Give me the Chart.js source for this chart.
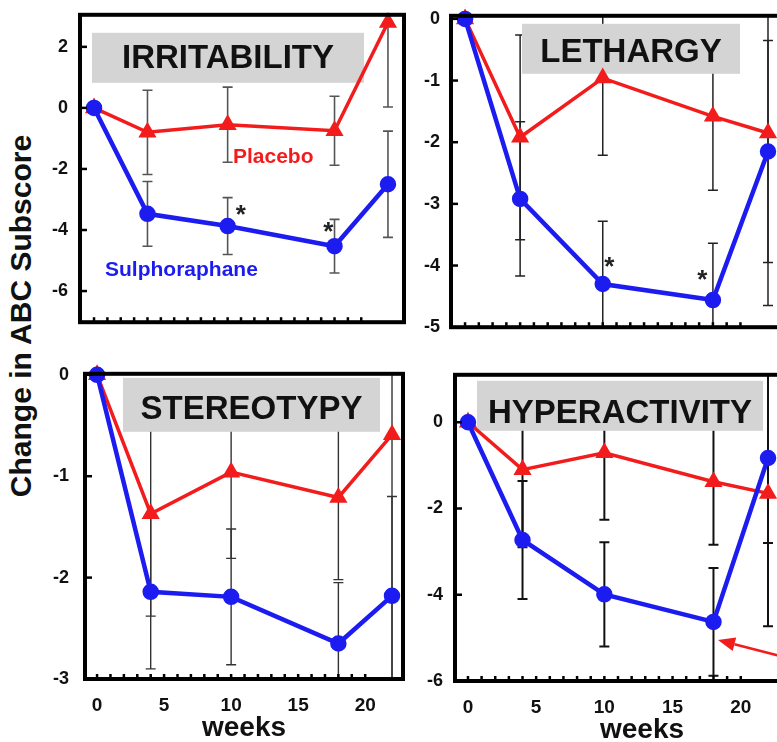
<!DOCTYPE html>
<html>
<head>
<meta charset="utf-8">
<script src="https://cdn.jsdelivr.net/npm/chart.js@4.4.0/dist/chart.umd.min.js"></script>
<style>
  body { margin: 0; background: #fff; width: 777px; height: 742px; overflow: hidden; position: relative; }
  canvas { position: absolute; }
  #ytitle {
    position: absolute; left: 21px; top: 316px;
    transform: translate(-50%, -50%) rotate(-90deg);
    white-space: nowrap; color: #111;
    font: bold 30px "Liberation Sans", Arial, sans-serif;
  }
</style>
</head>
<body>
<div id="ytitle">Change in ABC Subscore</div>
<canvas id="irr"></canvas>
<canvas id="leth"></canvas>
<canvas id="stereo"></canvas>
<canvas id="hyper"></canvas>
<script>
// weeks of assessment
const weeks = [0, 4, 10, 18, 22];
const weekTicks = [0, 5, 10, 15, 20];
const minorWeeks = [0, 1, 2, 3, 4, 5, 6, 7, 8, 9, 10, 11, 12, 13, 14, 15, 16, 17, 18, 19, 20];

// mean change and error (+/-) per subscale
const irritabilityPlacebo = [0, -0.8, -0.55, -0.75, 2.8];
const irritabilityPlaceboErr = [0, 1.38, 1.23, 1.13, 2.77];
const irritabilitySulph = [0, -3.47, -3.87, -4.53, -2.5];
const irritabilitySulphErr = [0, 1.06, 0.93, 0.88, 1.74];
const irritabilityTicks = [-6, -4, -2, 0, 2];

const lethargyPlacebo = [0, -1.92, -0.96, -1.58, -1.85];
const lethargyPlaceboErr = [0, 1.66, 1.25, 1.2, 2.8];
const lethargySulph = [0, -2.92, -4.3, -4.56, -2.15];
const lethargySulphErr = [0, 1.25, 1.02, 0.92, 1.8];
const lethargyTicks = [-5, -4, -3, -2, -1, 0];

const stereotypyPlacebo = [0, -1.37, -0.96, -1.21, -0.59];
const stereotypyPlaceboErr = [0, 1.01, 0.85, 0.81, 2.5];
const stereotypySulph = [0, -2.14, -2.19, -2.65, -2.18];
const stereotypySulphErr = [0, 0.76, 0.67, 0.6, 0.98];
const stereotypyTicks = [-3, -2, -1, 0];

const hyperactivityPlacebo = [0, -1.1, -0.71, -1.38, -1.65];
const hyperactivityPlaceboErr = [0, 1.8, 1.55, 1.46, 3.08];
const hyperactivitySulph = [0, -2.73, -3.99, -4.63, -0.83];
const hyperactivitySulphErr = [0, 1.37, 1.21, 1.25, 1.97];
const hyperactivityTicks = [-6, -4, -2, 0];

const RED = '#f21c1c';
const BLUE = '#1c1cf0';
const FONT = '"Liberation Sans", Arial, Helvetica, sans-serif';
const AXIS_W = 62;   // y axis width
const PAD = 14;
const X_AXIS_H = 66;

// decorations: error bars, grey title box, frame, ticks, notes
const decor = {
  id: 'decor',
  beforeDatasetsDraw(chart, args, o) {
    const { ctx, chartArea: a, scales: { x, y } } = chart;
    ctx.save();
    ctx.beginPath();
    ctx.rect(a.left, a.top, a.width, a.height);
    ctx.clip();
    ctx.strokeStyle = o.errColor;
    ctx.lineWidth = o.errWidth;
    chart.data.datasets.forEach(ds => {
      ds.data.forEach((p, i) => {
        const e = ds.errors[i];
        if (!e) return;
        const px = x.getPixelForValue(p.x);
        const y1 = y.getPixelForValue(p.y + e);
        const y2 = y.getPixelForValue(p.y - e);
        ctx.beginPath();
        ctx.moveTo(px, y1); ctx.lineTo(px, y2);
        ctx.moveTo(px - 5, y1); ctx.lineTo(px + 5, y1);
        ctx.moveTo(px - 5, y2); ctx.lineTo(px + 5, y2);
        ctx.stroke();
      });
    });
    ctx.restore();

    // title box sits over the error bars
    const b = o.box;
    ctx.save();
    ctx.fillStyle = '#d4d4d4';
    ctx.fillRect(a.left + b.dx, a.top + b.dy, b.w, b.h);
    ctx.fillStyle = '#111';
    ctx.font = 'bold 33px ' + FONT;
    ctx.textAlign = 'center';
    ctx.textBaseline = 'alphabetic';
    ctx.fillText(o.title, a.left + b.dx + b.w / 2, a.top + b.dy + b.base);
    ctx.restore();
  },
  afterDatasetsDraw(chart, args, o) {
    const { ctx, chartArea: a, scales: { x, y } } = chart;
    ctx.save();
    ctx.strokeStyle = '#000';
    ctx.lineWidth = 2.5;
    // inward y ticks
    y.ticks.forEach(t => {
      const py = y.getPixelForValue(t.value);
      ctx.beginPath(); ctx.moveTo(a.left, py); ctx.lineTo(a.left + 7, py); ctx.stroke();
    });
    // minor week ticks on the bottom
    minorWeeks.forEach(w => {
      const px = x.getPixelForValue(w);
      ctx.beginPath(); ctx.moveTo(px, a.bottom); ctx.lineTo(px, a.bottom - 5); ctx.stroke();
    });
    // frame
    ctx.lineWidth = 4;
    ctx.strokeRect(a.left, a.top, a.width, a.height);

    // text notes
    (o.notes || []).forEach(n => {
      ctx.fillStyle = n.color;
      ctx.font = 'bold ' + n.size + 'px ' + FONT;
      ctx.textAlign = n.align || 'center';
      ctx.textBaseline = 'middle';
      ctx.fillText(n.text, x.getPixelForValue(n.x), y.getPixelForValue(n.y));
    });

    // arrow
    if (o.arrow) {
      const x0 = x.getPixelForValue(o.arrow.from[0]), y0 = y.getPixelForValue(o.arrow.from[1]);
      const x1 = x.getPixelForValue(o.arrow.to[0]), y1 = y.getPixelForValue(o.arrow.to[1]);
      const ang = Math.atan2(y1 - y0, x1 - x0);
      const L = 17, W = 7;
      const bx = x1 - L * Math.cos(ang), by = y1 - L * Math.sin(ang);
      ctx.strokeStyle = RED; ctx.fillStyle = RED; ctx.lineWidth = 2.5;
      ctx.beginPath(); ctx.moveTo(x0, y0); ctx.lineTo(bx, by); ctx.stroke();
      ctx.beginPath();
      ctx.moveTo(x1, y1);
      ctx.lineTo(bx - W * Math.sin(ang), by + W * Math.cos(ang));
      ctx.lineTo(bx + W * Math.sin(ang), by - W * Math.cos(ang));
      ctx.closePath(); ctx.fill();
    }
    ctx.restore();
  }
};

const panels = [
  {
    id: 'irr', title: 'IRRITABILITY',
    placebo: irritabilityPlacebo, placeboErr: irritabilityPlaceboErr,
    sulph: irritabilitySulph, sulphErr: irritabilitySulphErr, yTicks: irritabilityTicks,
    frame: { left: 80, top: 15, right: 404, bottom: 322 },
    xRange: [-1.05, 23.2], yRange: [-7.02, 3.05], labelPad: 12, showX: false,
    box: { dx: 12, dy: 18, w: 272, h: 50, base: 35 }, errColor: '#555', errWidth: 1.6,
    notes: [
      { text: 'Placebo', x: 10.4, y: -1.6, color: RED, size: 21, align: 'left' },
      { text: 'Sulphoraphane', x: 0.82, y: -5.31, color: BLUE, size: 21, align: 'left' },
      { text: '*', x: 10.98, y: -3.55, color: '#222', size: 26 },
      { text: '*', x: 17.53, y: -4.1, color: '#222', size: 26 }
    ]
  },
  {
    id: 'leth', title: 'LETHARGY',
    placebo: lethargyPlacebo, placeboErr: lethargyPlaceboErr,
    sulph: lethargySulph, sulphErr: lethargySulphErr, yTicks: lethargyTicks,
    frame: { left: 451, top: 16, right: 829, bottom: 327 },
    xRange: [-1.02, 26.43], yRange: [-5, 0.05], labelPad: 11, showX: false,
    box: { dx: 71, dy: 8, w: 218, h: 50, base: 38 }, errColor: '#222', errWidth: 1.5,
    notes: [
      { text: '*', x: 10.48, y: -4.03, color: '#222', size: 26 },
      { text: '*', x: 17.23, y: -4.25, color: '#222', size: 26 }
    ]
  },
  {
    id: 'stereo', title: 'STEREOTYPY',
    placebo: stereotypyPlacebo, placeboErr: stereotypyPlaceboErr,
    sulph: stereotypySulph, sulphErr: stereotypySulphErr, yTicks: stereotypyTicks,
    frame: { left: 85, top: 374, right: 403, bottom: 679 },
    xRange: [-0.9, 22.82], yRange: [-3, 0.01], labelPad: 16, showX: true,
    box: { dx: 38, dy: 4, w: 257, h: 54, base: 41 }, errColor: '#333', errWidth: 1.4,
    notes: []
  },
  {
    id: 'hyper', title: 'HYPERACTIVITY',
    placebo: hyperactivityPlacebo, placeboErr: hyperactivityPlaceboErr,
    sulph: hyperactivitySulph, sulphErr: hyperactivitySulphErr, yTicks: hyperactivityTicks,
    frame: { left: 455, top: 375, right: 829, bottom: 681 },
    xRange: [-0.95, 26.47], yRange: [-6, 1.1], labelPad: 12, showX: true,
    box: { dx: 22, dy: 6, w: 286, h: 50, base: 42 }, errColor: '#111', errWidth: 2,
    notes: [],
    arrow: { from: [23.6, -5.48], to: [18.33, -5.05] }
  }
];

const pts = vals => weeks.map((w, i) => ({ x: w, y: vals[i] }));

function build(p, g) {
  const cv = document.getElementById(p.id);
  cv.width = g.w;
  cv.height = g.h;
  cv.style.left = g.left + 'px';
  cv.style.top = g.top + 'px';

  return new Chart(cv, {
    type: 'line',
    data: {
      datasets: [
        {
          label: 'Sulphoraphane', data: pts(p.sulph), errors: p.sulphErr,
          borderColor: BLUE, backgroundColor: BLUE, borderWidth: 4.5,
          pointStyle: 'circle', pointRadius: 6, clip: false
        },
        {
          label: 'Placebo', data: pts(p.placebo), errors: p.placeboErr,
          borderColor: RED, backgroundColor: RED, borderWidth: 3.5,
          pointStyle: 'triangle', pointRadius: 7, clip: false
        }
      ]
    },
    options: {
      responsive: false,
      animation: false,
      devicePixelRatio: 1,
      layout: { autoPadding: false, padding: { left: 0, top: PAD, right: PAD, bottom: p.showX ? 0 : PAD } },
      plugins: {
        legend: { display: false },
        tooltip: { enabled: false },
        decor: {
          title: p.title, box: p.box, errColor: p.errColor, errWidth: p.errWidth,
          notes: p.notes, arrow: p.arrow
        }
      },
      scales: {
        x: {
          type: 'linear', min: p.xRange[0], max: p.xRange[1], display: p.showX,
          afterBuildTicks: s => { s.ticks = weekTicks.map(v => ({ value: v })); },
          afterFit: s => { if (p.showX) s.height = X_AXIS_H; },
          grid: { display: false, drawTicks: false },
          border: { display: false },
          ticks: { font: { family: FONT, size: 19, weight: 'bold' }, color: '#111', padding: 15, maxRotation: 0, autoSkip: false },
          title: { display: true, text: 'weeks', font: { family: FONT, size: 28, weight: 'bold' }, color: '#111', padding: 0 }
        },
        y: {
          type: 'linear', min: p.yRange[0], max: p.yRange[1],
          afterBuildTicks: s => { s.ticks = p.yTicks.map(v => ({ value: v })); },
          afterFit: s => { s.width = AXIS_W; },
          grid: { display: false, drawTicks: false },
          border: { display: false },
          ticks: { font: { family: FONT, size: 18, weight: 'bold' }, color: '#111', padding: p.labelPad, autoSkip: false }
        }
      }
    },
    plugins: [decor]
  });
}

panels.forEach(p => {
  let g = { left: p.frame.left - AXIS_W, top: p.frame.top - PAD };
  g.w = p.frame.right + PAD - g.left;
  g.h = p.frame.bottom + (p.showX ? X_AXIS_H : PAD) - g.top;
  let chart = build(p, g);
  // nudge the canvas so the plot area lands on the frame
  for (let k = 0; k < 3; k++) {
    const a = chart.chartArea;
    const mR = g.w - a.right, mB = g.h - a.bottom;
    const n = { left: Math.round(p.frame.left - a.left), top: Math.round(p.frame.top - a.top) };
    n.w = Math.round(p.frame.right + mR - n.left);
    n.h = Math.round(p.frame.bottom + mB - n.top);
    if (n.left === g.left && n.top === g.top && n.w === g.w && n.h === g.h) break;
    chart.destroy();
    g = n;
    chart = build(p, g);
  }
});
</script>
</body>
</html>
